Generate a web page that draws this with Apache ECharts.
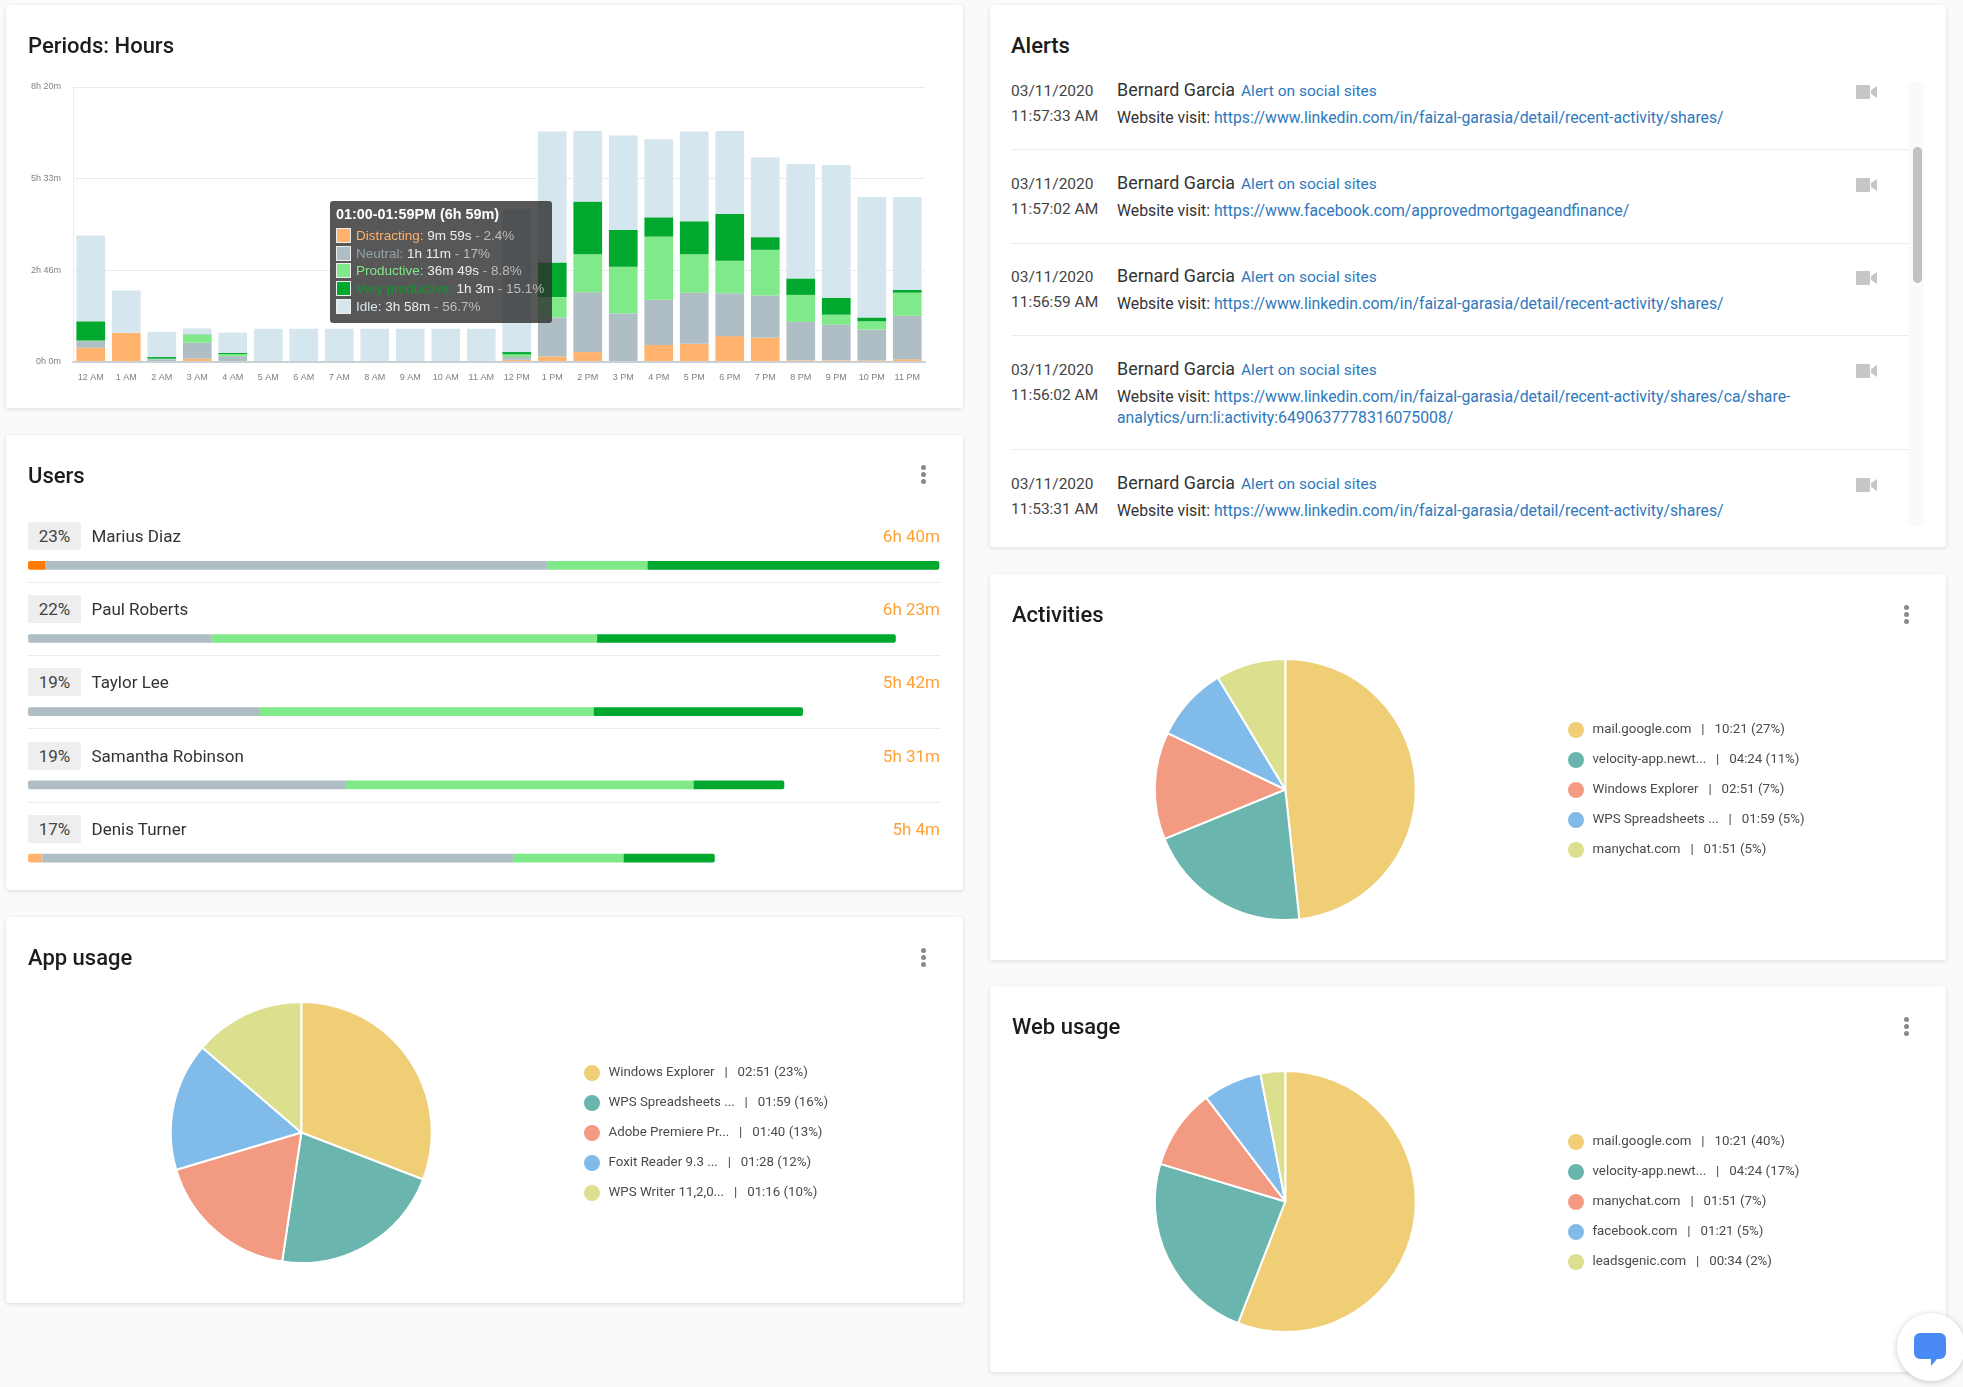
<!DOCTYPE html>
<html><head><meta charset="utf-8">
<script src="https://cdn.jsdelivr.net/npm/echarts@6/dist/echarts.min.js"></script>
<style>
html,body{margin:0;padding:0;background:#fafafa;width:1963px;height:1387px;overflow:hidden;font-family:Roboto,sans-serif}
.card{position:absolute;background:#fff;border-radius:3px;box-shadow:0 1px 4px rgba(0,0,0,.13)}
.chart{position:absolute;left:0;top:0;width:100%;height:100%}
.abs{position:absolute;white-space:nowrap}
.title{font-size:22px;line-height:26px;color:#1c1c1c;font-weight:500}
.kebab{position:absolute;width:5px;height:5px;border-radius:50%;background:#8a8a8a;box-shadow:0 7px 0 #8a8a8a,0 -7px 0 #8a8a8a}
.pct{position:absolute;left:22px;width:53px;height:28px;line-height:28px;text-align:center;background:#eee;border-radius:2px;font-size:17px;color:#444}
.uname{font-size:17px;color:#333;line-height:28px}
.utime{font-size:17px;color:#ffa033;line-height:28px}
.sep{position:absolute;height:1px;background:#ececec}
.date{font-size:15.5px;color:#444;line-height:20px}
.who{font-size:17.9px;color:#333;line-height:20px}
.alertname{font-size:15.5px;color:#2f78bd;line-height:20px}
.visit{font-size:15.8px;color:#333;line-height:21px}
.visit a{color:#2f78bd;text-decoration:none}
</style></head><body>
<div class="card" style="left:6px;top:5px;width:957px;height:403px"><div id="hours" class="chart"></div></div>
<div class="card" id="usersCard" style="left:6px;top:435px;width:957px;height:455px"><div id="users" class="chart" style="height:480px"></div></div>
<div class="card" style="left:6px;top:917px;width:957px;height:386px"><div id="app" class="chart"></div><div class="kebab" style="left:914.5px;top:37.5px"></div></div>
<div class="card" id="alertsCard" style="left:990px;top:5px;width:956px;height:542px"></div>
<div class="card" style="left:990px;top:574px;width:956px;height:386px"><div id="activities" class="chart"></div><div class="kebab" style="left:913.5px;top:37.5px"></div></div>
<div class="card" style="left:990px;top:986px;width:956px;height:386px"><div id="web" class="chart"></div><div class="kebab" style="left:913.5px;top:37.5px"></div></div>
<div style="position:absolute;left:1897px;top:1313px;width:68px;height:68px;border-radius:50%;background:#fff;box-shadow:0 1px 6px rgba(0,0,0,.22)"></div>
<svg style="position:absolute;left:1912px;top:1331px" width="36" height="38" viewBox="0 0 36 38"><path d="M8 2h20a6 6 0 0 1 6 6v14a6 6 0 0 1-6 6h-3l-6 7v-7H8a6 6 0 0 1-6-6V8a6 6 0 0 1 6-6z" fill="#4a8af4"/></svg>
<script>
// ---------- Periods: Hours (values in minutes) ----------
const hourLabels = ['12 AM','1 AM','2 AM','3 AM','4 AM','5 AM','6 AM','7 AM','8 AM','9 AM','10 AM','11 AM','12 PM','1 PM','2 PM','3 PM','4 PM','5 PM','6 PM','7 PM','8 PM','9 PM','10 PM','11 PM'];
const yTickLabels = ['0h 0m','2h 46m','5h 33m','8h 20m'];
const distracting  = [26,53,1,6,0.5,0,0,0,0,0,0,0,4,10,18,2,31,33,47,44,3,3,3,5];
const neutral      = [12,0,4,29,10,0.5,0.5,0.5,0.5,0.5,0.5,0.5,5,71,109,86,82,93,78,77,70,65,56,79];
const productive   = [1,0,1,14,4,0,0,0,0,0,0,0,5,37,69,85,115,70,59,83,49,18,15,42];
const veryProd     = [35,0,3,1,2,0,0,0,0,0,0,0,4,63,96,67,35,60,85,23,30,31,7,5];
const idle         = [156,77,46,11,37,60,60,60,60,60,60,60,260,238,128,172,142,163,151,145,208,241,219,169];
const periodNames  = ['Distracting','Neutral','Productive','Very productive','Idle'];
const tipTitle     = '01:00-01:59PM (6h 59m)';
const tipTimes     = ['9m 59s','1h 11m','36m 49s','1h 3m','3h 58m'];
const tipPcts      = ['2.4%','17%','8.8%','15.1%','56.7%'];

// ---------- Users (values in minutes) ----------
const userNames  = ['Marius Diaz','Paul Roberts','Taylor Lee','Samantha Robinson','Denis Turner'];
const userPcts   = ['23%','22%','19%','19%','17%'];
const userTotals = ['6h 40m','6h 23m','5h 42m','5h 31m','5h 4m'];
const userDistracting = [7.7,0,0,0,6.3];
const userNeutral     = [220,80.6,101.7,139.5,206.4];
const userProductive  = [44,169,146.4,152.4,48.5];
const userVeryProd    = [128,131,91.8,39.8,40];

// ---------- Pies (values in seconds) ----------
const appNames = ['Windows Explorer','WPS Spreadsheets ...','Adobe Premiere Pr...','Foxit Reader 9.3 ...','WPS Writer 11,2,0...'];
const appValues = [171,119,100,88,76];
const appTimes = ['02:51','01:59','01:40','01:28','01:16'];
const appPcts = ['23%','16%','13%','12%','10%'];
const actNames = ['mail.google.com','velocity-app.newt...','Windows Explorer','WPS Spreadsheets ...','manychat.com'];
const actValues = [621,264,171,119,111];
const actTimes = ['10:21','04:24','02:51','01:59','01:51'];
const actPcts = ['27%','11%','7%','5%','5%'];
const webNames = ['mail.google.com','velocity-app.newt...','manychat.com','facebook.com','leadsgenic.com'];
const webValues = [621,264,111,81,34];
const webTimes = ['10:21','04:24','01:51','01:21','00:34'];
const webPcts = ['40%','17%','7%','5%','2%'];

// ---------- Alerts ----------
const alertDates = ['03/11/2020','03/11/2020','03/11/2020','03/11/2020','03/11/2020'];
const alertTimes = ['11:57:33 AM','11:57:02 AM','11:56:59 AM','11:56:02 AM','11:53:31 AM'];
const alertUrls = [
 ['https://www.linkedin.com/in/faizal-garasia/detail/recent-activity/shares/'],
 ['https://www.facebook.com/approvedmortgageandfinance/'],
 ['https://www.linkedin.com/in/faizal-garasia/detail/recent-activity/shares/'],
 ['https://www.linkedin.com/in/faizal-garasia/detail/recent-activity/shares/ca/share-','analytics/urn:li:activity:6490637778316075008/'],
 ['https://www.linkedin.com/in/faizal-garasia/detail/recent-activity/shares/']];
const alertWho = 'Bernard Garcia', alertLabel = 'Alert on social sites';

// ---------- Styles ----------
const periodColors = ['#ffb36c','#afbdc4','#80e98a','#00a92d','#d6e6ee'];
const tipLabelColors = ['#ffb36c','#93a3ab','#80e98a','#0a9c2d','#d6e6ee'];
const pieColors = ['#f0ce76','#6ab5ad','#f39a82','#80bbea','#dbe08f'];
const titleStyle = {fontFamily:'Roboto',fontSize:22,fontWeight:500,color:'#1c1c1c',lineHeight:26};
const title = t => ({text:t,left:22,top:29,padding:0,textStyle:titleStyle});

// Hours chart
const hoursChart = echarts.init(document.getElementById('hours'));
const periodSeries = [distracting,neutral,productive,veryProd,idle];
hoursChart.setOption({
  animation:false,
  title:title('Periods: Hours'),
  grid:{left:67,top:82,width:852,height:275},
  tooltip:{trigger:'item',alwaysShowContent:true,transitionDuration:0,position:[324,196],
    backgroundColor:'rgba(45,45,45,.8)',borderWidth:0,padding:0,
    extraCssText:'box-shadow:none;border-radius:3px;width:222px;height:122px;box-sizing:border-box;padding:5px 6px;font-family:"Liberation Sans",sans-serif;',
    formatter:()=>{
      let s='<div style="font-weight:bold;font-size:14.4px;line-height:17px;color:#fff;margin-bottom:4px">'+tipTitle+'</div>';
      periodNames.forEach((n,i)=>{
        s+='<div style="font-size:13.5px;line-height:17.7px;height:17.7px;white-space:nowrap;color:#eee">'+
          '<span style="display:inline-block;box-sizing:border-box;width:15px;height:15px;background:'+periodColors[i]+';border:1px solid #eee;vertical-align:-3px;margin-right:5px"></span>'+
          '<span style="color:'+tipLabelColors[i]+'">'+n+':</span> '+tipTimes[i]+' <span style="color:#bbb">- '+tipPcts[i]+'</span></div>';
      });
      return s;
    }},
  xAxis:{type:'category',data:hourLabels,z:3,
    axisLine:{lineStyle:{color:'#ccd0d3',width:2}},axisTick:{show:false},
    axisLabel:{interval:0,fontFamily:'Liberation Sans',fontSize:9,color:'#808080',margin:11}},
  yAxis:{type:'value',min:0,max:30000,interval:10000,
    axisLine:{show:true,lineStyle:{color:'#eee'}},axisTick:{show:false},
    splitLine:{lineStyle:{color:'#eaeaea'}},
    axisLabel:{fontFamily:'Liberation Sans',fontSize:9,color:'#808080',margin:12,
      formatter:v=>yTickLabels[Math.round(v/10000)]}},
  series:periodSeries.map((d,i)=>({name:periodNames[i],type:'bar',stack:'h',barWidth:28.7,
    data:d.map(v=>v*60),itemStyle:{color:periodColors[i]}}))
});
hoursChart.dispatchAction({type:'showTip',seriesIndex:4,dataIndex:13});

// Users chart
const usersChart = echarts.init(document.getElementById('users'));
const userSeries = [userDistracting,userNeutral,userProductive,userVeryProd];
usersChart.setOption({
  animation:false,
  title:title('Users'),
  grid:{left:22,top:93.7,width:912,height:366},
  xAxis:{type:'value',min:0,max:400,show:false},
  yAxis:{type:'category',inverse:true,data:userNames,show:false},
  series:userSeries.map((d,si)=>({type:'bar',stack:'u',barWidth:8.7,
    data:d.map((v,ri)=>{
      const first=userSeries.findIndex(a=>a[ri]>0), r=2;
      const last=userSeries.length-1;
      let col=periodColors[si];
      if(si===0&&ri===0) col='#ff7a00';
      return {value:v,itemStyle:{color:col,borderRadius:[si===first?r:0,si===last?r:0,si===last?r:0,si===first?r:0]}};
    })}))
});
const uc=document.getElementById('usersCard');
let html='<div class="kebab" style="left:914.5px;top:37px"></div>';
userNames.forEach((n,i)=>{
  const y=87+73.2*i;
  html+='<div class="pct" style="top:'+y+'px">'+userPcts[i]+'</div>'+
    '<div class="abs uname" style="left:85.5px;top:'+y+'px">'+n+'</div>'+
    '<div class="abs utime" style="right:23px;top:'+y+'px">'+userTotals[i]+'</div>';
  if(i<4) html+='<div class="sep" style="left:22px;width:913px;top:'+(147+73.2*i)+'px"></div>';
});
uc.insertAdjacentHTML('beforeend',html);

// Pies
function pie(id,t,names,values,times,pcts){
  const c=echarts.init(document.getElementById(id));
  const labelOf={};names.forEach((n,i)=>labelOf[n]=n+'   |   '+times[i]+' ('+pcts[i]+')');
  c.setOption({
    animation:false,color:pieColors,title:title(t),
    legend:{orient:'vertical',left:576,top:146,padding:0,icon:'circle',itemWidth:18,itemHeight:18,itemGap:10,
      selectedMode:false,data:names,formatter:n=>labelOf[n],
      textStyle:{fontFamily:'Roboto',fontSize:13.3,color:'#4a4a4a',padding:[0,0,0,2.5]}},
    series:[{type:'pie',center:[295.3,215.5],radius:[0,130.5],startAngle:90,clockwise:true,
      label:{show:false},labelLine:{show:false},silent:true,
      itemStyle:{borderColor:'#fff',borderWidth:2},
      data:names.map((n,i)=>({name:n,value:values[i]}))}]
  });
}
pie('app','App usage',appNames,appValues,appTimes,appPcts);
pie('activities','Activities',actNames,actValues,actTimes,actPcts);
pie('web','Web usage',webNames,webValues,webTimes,webPcts);

// Alerts panel
const ac=document.getElementById('alertsCard');
const rowY=[0,93,186,279,393], sepY=[144,237.5,330,444];
let a='<div class="abs title" style="left:21px;top:28px">Alerts</div>'+
 '<div style="position:absolute;left:918px;top:77px;width:16px;height:444px;background:#fafafa"></div>'+
 '<div style="position:absolute;left:923px;top:142px;width:9px;height:136px;background:#c1c1c1;border-radius:5px"></div>';
alertDates.forEach((d,i)=>{
  const y=rowY[i];
  a+='<div class="abs date" style="left:21px;top:'+(76+y)+'px">'+d+'</div>'+
     '<div class="abs date" style="left:21px;top:'+(101+y)+'px">'+alertTimes[i]+'</div>'+
     '<div class="abs who" style="left:127px;top:'+(75+y)+'px">'+alertWho+'</div>'+
     '<div class="abs alertname" style="left:251px;top:'+(76+y)+'px">'+alertLabel+'</div>'+
     '<div class="abs visit" style="left:127px;top:'+(101.5+y)+'px">Website visit: <a>'+alertUrls[i][0]+'</a></div>';
  if(alertUrls[i][1]) a+='<div class="abs visit" style="left:127px;top:'+(122.5+y)+'px"><a>'+alertUrls[i][1]+'</a></div>';
  a+='<svg style="position:absolute;left:866px;top:'+(80+y)+'px" width="21" height="14" viewBox="0 0 21 14"><path d="M1 0h12a1 1 0 0 1 1 1v12a1 1 0 0 1-1 1H1a1 1 0 0 1-1-1V1a1 1 0 0 1 1-1zM15 5l6-4v12l-6-4z" fill="#c6c6c6"/></svg>';
});
sepY.forEach(y=>{a+='<div class="sep" style="left:21px;width:897px;top:'+y+'px"></div>';});
ac.innerHTML=a;
</script>
</body></html>
